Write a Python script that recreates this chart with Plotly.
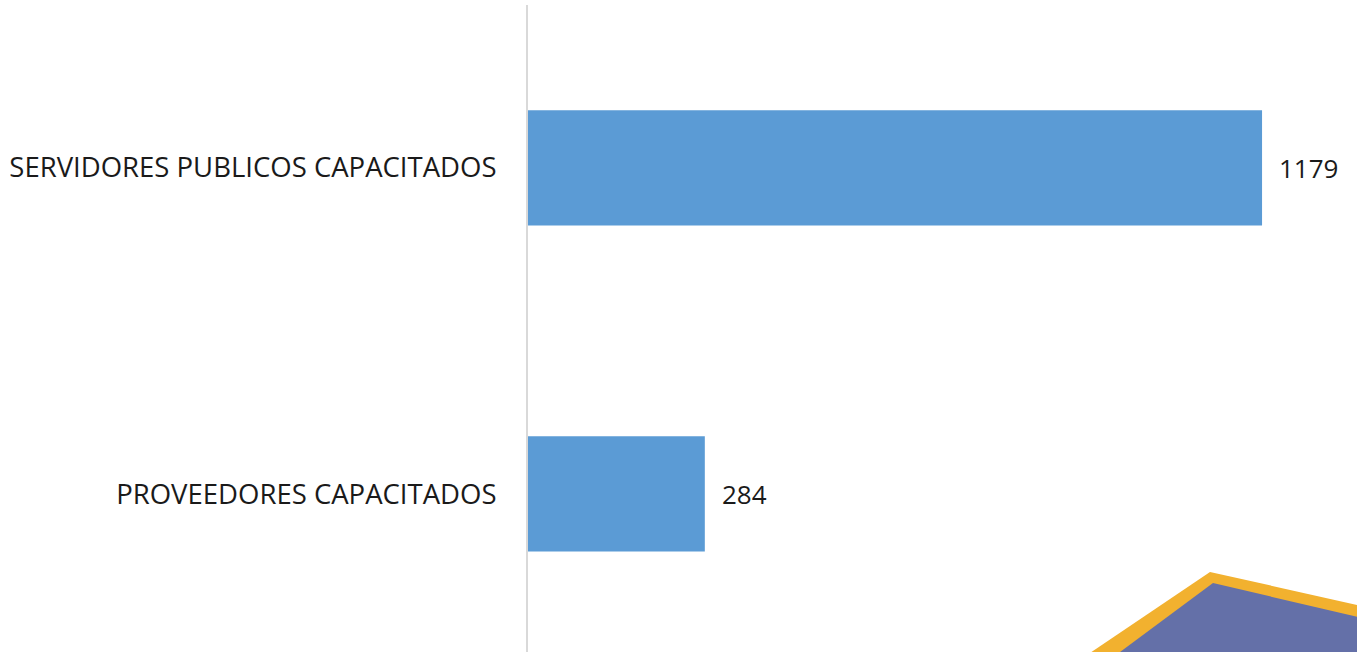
import plotly.graph_objects as go

# data
categories = ["PROVEEDORES CAPACITADOS", "SERVIDORES PUBLICOS CAPACITADOS"]
values = [284, 1179]

W, H = 1357, 652
L, T = 528, 5
PLOT_W = W - L
PLOT_H = H - T

BAR_COLOR = "#5B9BD5"
FONT = "Open Sans"


def px_to_paper(pts):
    # page pixel coords -> paper coords (decoration only)
    out = []
    for x, y in pts:
        out.append(((x - L) / PLOT_W, (H - y) / PLOT_H))
    return out


def path_from(pts):
    p = px_to_paper(pts)
    return "M " + " L ".join(f"{x:.5f},{y:.5f}" for x, y in p) + " Z"


fig = go.Figure()

fig.add_trace(
    go.Bar(
        y=categories,
        x=values,
        orientation="h",
        marker=dict(color=BAR_COLOR, line=dict(width=0)),
        width=0.353,
        hoverinfo="x+y",
    )
)

# value labels right of the bars
for cat, val in zip(categories, values):
    fig.add_annotation(
        x=val, y=cat, text=str(val),
        xanchor="left", yanchor="middle",
        xshift=15, showarrow=False,
        font=dict(family=FONT, size=26, color="#1a1a1a"),
    )

# decorative corner shape (yellow border + slate-blue fill)
fig.add_shape(
    type="path", xref="paper", yref="paper",
    path=path_from([(1087, 655), (1210, 572), (1362, 606), (1362, 655)]),
    fillcolor="#F2B12F", line=dict(width=0), layer="above",
)
fig.add_shape(
    type="path", xref="paper", yref="paper",
    path=path_from([(1116, 655), (1213, 583), (1362, 618), (1362, 655)]),
    fillcolor="#6470A8", line=dict(width=0), layer="above",
)

fig.update_layout(
    width=W,
    height=H,
    margin=dict(l=L, r=0, t=T, b=0),
    plot_bgcolor="white",
    paper_bgcolor="white",
    showlegend=False,
    font=dict(family=FONT, color="#1a1a1a"),
)

fig.update_xaxes(
    range=[0, PLOT_W / 0.6226],
    showgrid=False,
    zeroline=False,
    showticklabels=False,
    showline=False,
)

# bar centres at y=167 and y=493 of the page
fig.update_yaxes(
    range=[-0.485, 1.4995],
    showgrid=False,
    zeroline=False,
    showline=True,
    linecolor="#D9D9D9",
    linewidth=2,
    ticks="",
    ticklabelstandoff=24,
    tickfont=dict(family=FONT, size=27.5, color="#1a1a1a"),
)

# drop the default 8px body margin so the figure fills the window
fig.write_html(
    "out.html",
    config={"displayModeBar": False},
    post_script="document.body.style.margin='0';document.body.style.overflow='hidden';",
)
